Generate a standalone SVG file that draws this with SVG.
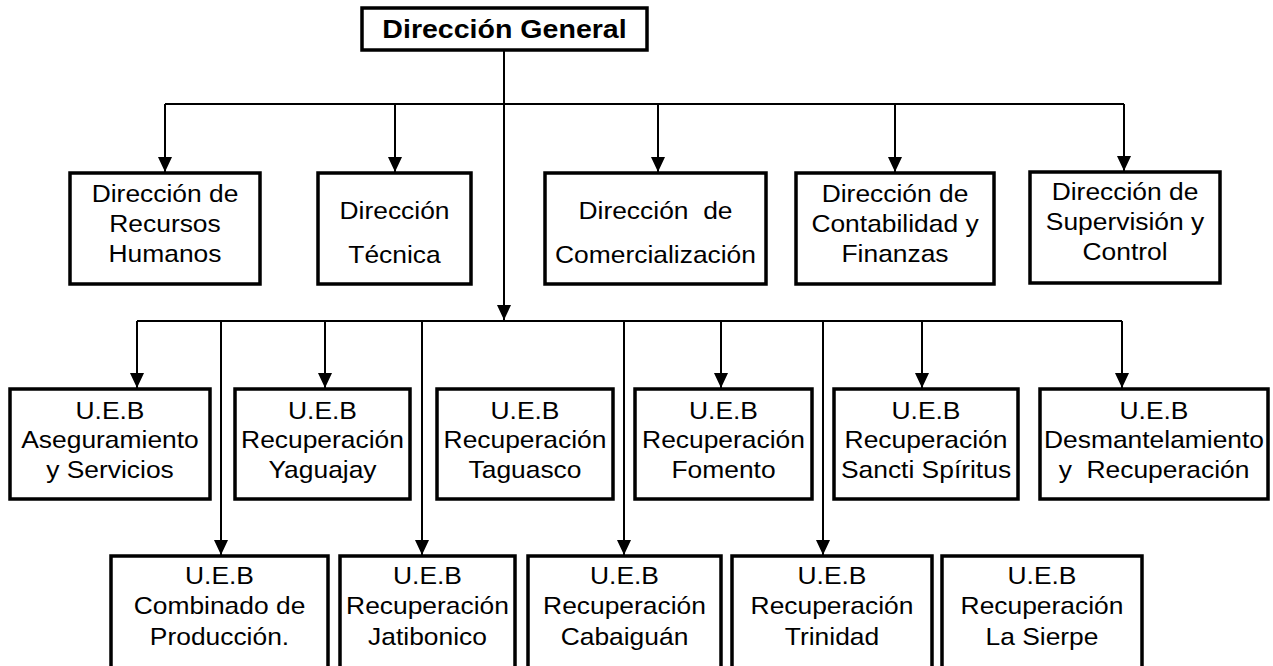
<svg xmlns="http://www.w3.org/2000/svg" width="1273" height="666" viewBox="0 0 1273 666">
<style>
.box{fill:#fff;stroke:#000;stroke-width:3.5}
.t{font-family:"Liberation Sans",Arial,sans-serif;font-size:24px;fill:#000;text-anchor:middle}
.tb{font-family:"Liberation Sans",Arial,sans-serif;font-size:25.5px;font-weight:bold;fill:#000;text-anchor:middle}
.ln{fill:none;stroke:#000;stroke-width:2}
.pre{white-space:pre}
</style>
<defs>
<marker id="ah" markerUnits="userSpaceOnUse" viewBox="0 -8 16 16" refX="15" refY="0" markerWidth="16" markerHeight="16" orient="auto">
<path d="M0,-7 L15,0 L0,7 Z" fill="#000"/>
</marker>
</defs>
<rect width="1273" height="666" fill="#fff"/>

<g id="connectors">
<path class="ln" d="M504,50 V320" marker-end="url(#ah)"/>
<path class="ln" d="M165,104 H1124"/>
<path class="ln" d="M165,104 V172" marker-end="url(#ah)"/>
<path class="ln" d="M395,104 V172" marker-end="url(#ah)"/>
<path class="ln" d="M658,104 V172" marker-end="url(#ah)"/>
<path class="ln" d="M895,104 V172" marker-end="url(#ah)"/>
<path class="ln" d="M1124,104 V171" marker-end="url(#ah)"/>
<path class="ln" d="M137,321 H1122"/>
<path class="ln" d="M137,321 V388" marker-end="url(#ah)"/>
<path class="ln" d="M325,321 V388" marker-end="url(#ah)"/>
<path class="ln" d="M721,321 V388" marker-end="url(#ah)"/>
<path class="ln" d="M922,321 V388" marker-end="url(#ah)"/>
<path class="ln" d="M1122,321 V388" marker-end="url(#ah)"/>
<path class="ln" d="M221,321 V555" marker-end="url(#ah)"/>
<path class="ln" d="M422,321 V555" marker-end="url(#ah)"/>
<path class="ln" d="M624,321 V555" marker-end="url(#ah)"/>
<path class="ln" d="M823,321 V555" marker-end="url(#ah)"/>
</g>

<g id="dg">
<rect class="box" x="362" y="8" width="285" height="42"/>
<text class="tb" transform="translate(504.5 0) scale(1.12 1)" x="0" y="38">Dirección General</text>
</g>

<g id="rrhh">
<rect class="box" x="70" y="173" width="190" height="111"/>
<text class="t" transform="translate(165 0) scale(1.1 1)"><tspan x="0" y="202">Dirección de</tspan><tspan x="0" y="232">Recursos</tspan><tspan x="0" y="262">Humanos</tspan></text>
</g>
<g id="tecnica">
<rect class="box" x="318" y="173" width="153" height="111"/>
<text class="t" transform="translate(394.5 0) scale(1.1 1)"><tspan x="0" y="219">Dirección</tspan><tspan x="0" y="263">Técnica</tspan></text>
</g>
<g id="comercial">
<rect class="box" x="545" y="173" width="221" height="111"/>
<text class="t pre" transform="translate(655.5 0) scale(1.1 1)"><tspan x="0" y="219">Dirección  de</tspan><tspan x="0" y="263">Comercialización</tspan></text>
</g>
<g id="contab">
<rect class="box" x="796" y="173" width="198" height="111"/>
<text class="t" transform="translate(895 0) scale(1.1 1)"><tspan x="0" y="202">Dirección de</tspan><tspan x="0" y="232">Contabilidad y</tspan><tspan x="0" y="262">Finanzas</tspan></text>
</g>
<g id="superv">
<rect class="box" x="1030" y="172" width="190" height="111"/>
<text class="t" transform="translate(1125 0) scale(1.1 1)"><tspan x="0" y="200">Dirección de</tspan><tspan x="0" y="230">Supervisión y</tspan><tspan x="0" y="260">Control</tspan></text>
</g>

<g id="aseg">
<rect class="box" x="10" y="389" width="200" height="110"/>
<text class="t" transform="translate(110 0) scale(1.1 1)"><tspan x="0" y="419">U.E.B</tspan><tspan x="0" y="448.5">Aseguramiento</tspan><tspan x="0" y="478">y Servicios</tspan></text>
</g>
<g id="yaguajay">
<rect class="box" x="235" y="389" width="175" height="110"/>
<text class="t" transform="translate(322.5 0) scale(1.1 1)"><tspan x="0" y="419">U.E.B</tspan><tspan x="0" y="448.5">Recuperación</tspan><tspan x="0" y="478">Yaguajay</tspan></text>
</g>
<g id="taguasco">
<rect class="box" x="437" y="389" width="176" height="110"/>
<text class="t" transform="translate(525 0) scale(1.1 1)"><tspan x="0" y="419">U.E.B</tspan><tspan x="0" y="448.5">Recuperación</tspan><tspan x="0" y="478">Taguasco</tspan></text>
</g>
<g id="fomento">
<rect class="box" x="635" y="389" width="177" height="110"/>
<text class="t" transform="translate(723.5 0) scale(1.1 1)"><tspan x="0" y="419">U.E.B</tspan><tspan x="0" y="448.5">Recuperación</tspan><tspan x="0" y="478">Fomento</tspan></text>
</g>
<g id="sancti">
<rect class="box" x="834" y="389" width="184" height="110"/>
<text class="t" transform="translate(926 0) scale(1.1 1)"><tspan x="0" y="419">U.E.B</tspan><tspan x="0" y="448.5">Recuperación</tspan><tspan x="0" y="478">Sancti Spíritus</tspan></text>
</g>
<g id="desmant">
<rect class="box" x="1040" y="389" width="228" height="110"/>
<text class="t pre" transform="translate(1154 0) scale(1.1 1)"><tspan x="0" y="419">U.E.B</tspan><tspan x="0" y="448.5">Desmantelamiento</tspan><tspan x="0" y="478">y  Recuperación</tspan></text>
</g>

<g id="combinado">
<rect class="box" x="111" y="556" width="217" height="116"/>
<text class="t" transform="translate(219.5 0) scale(1.1 1)"><tspan x="0" y="584">U.E.B</tspan><tspan x="0" y="614.5">Combinado de</tspan><tspan x="0" y="645">Producción.</tspan></text>
</g>
<g id="jatibonico">
<rect class="box" x="340" y="556" width="175" height="116"/>
<text class="t" transform="translate(427.5 0) scale(1.1 1)"><tspan x="0" y="584">U.E.B</tspan><tspan x="0" y="614.5">Recuperación</tspan><tspan x="0" y="645">Jatibonico</tspan></text>
</g>
<g id="cabaiguan">
<rect class="box" x="528" y="556" width="193" height="116"/>
<text class="t" transform="translate(624.5 0) scale(1.1 1)"><tspan x="0" y="584">U.E.B</tspan><tspan x="0" y="614.5">Recuperación</tspan><tspan x="0" y="645">Cabaiguán</tspan></text>
</g>
<g id="trinidad">
<rect class="box" x="732" y="556" width="200" height="116"/>
<text class="t" transform="translate(832 0) scale(1.1 1)"><tspan x="0" y="584">U.E.B</tspan><tspan x="0" y="614.5">Recuperación</tspan><tspan x="0" y="645">Trinidad</tspan></text>
</g>
<g id="lasierpe">
<rect class="box" x="942" y="556" width="200" height="116"/>
<text class="t" transform="translate(1042 0) scale(1.1 1)"><tspan x="0" y="584">U.E.B</tspan><tspan x="0" y="614.5">Recuperación</tspan><tspan x="0" y="645">La Sierpe</tspan></text>
</g>
</svg>
